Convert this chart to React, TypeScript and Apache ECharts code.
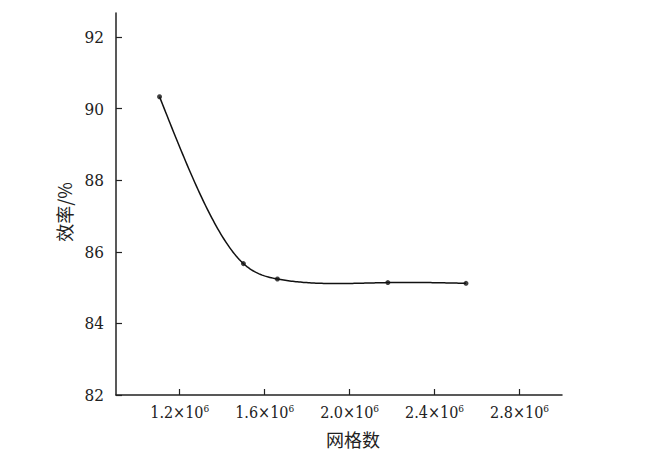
import React, { useEffect, useRef } from "react";
import * as echarts from "echarts";

const gridCounts = [1.105e6, 1.5e6, 1.66e6, 2.18e6, 2.548e6];
const efficiency = [90.33, 85.67, 85.24, 85.14, 85.12];
const xTicks = [1.2e6, 1.6e6, 2.0e6, 2.4e6, 2.8e6];
const yTicks = [82, 84, 86, 88, 90, 92];
const xName = "网格数";
const yName = "效率/%";

const serif = "DejaVu Serif Condensed";
const cjk = "Noto Sans CJK SC";

function naturalSpline(xs: number[], ys: number[]) {
  const n = xs.length;
  const h: number[] = [];
  for (let i = 0; i < n - 1; i++) h.push(xs[i + 1] - xs[i]);
  const a: number[] = new Array(n).fill(0);
  const b: number[] = new Array(n).fill(0);
  const c: number[] = new Array(n).fill(0);
  const d: number[] = new Array(n).fill(0);
  b[0] = 1; b[n - 1] = 1;
  for (let i = 1; i < n - 1; i++) {
    a[i] = h[i - 1];
    b[i] = 2 * (h[i - 1] + h[i]);
    c[i] = h[i];
    d[i] = 6 * ((ys[i + 1] - ys[i]) / h[i] - (ys[i] - ys[i - 1]) / h[i - 1]);
  }
  const cp = [...c];
  const dp = [...d];
  cp[0] = c[0] / b[0];
  dp[0] = d[0] / b[0];
  for (let i = 1; i < n; i++) {
    const m = b[i] - a[i] * cp[i - 1];
    cp[i] = c[i] / m;
    dp[i] = (d[i] - a[i] * dp[i - 1]) / m;
  }
  const M = new Array(n).fill(0);
  M[n - 1] = dp[n - 1];
  for (let i = n - 2; i >= 0; i--) M[i] = dp[i] - cp[i] * M[i + 1];
  return (x: number) => {
    let i = 0;
    while (i < n - 2 && x > xs[i + 1]) i++;
    const hi = h[i];
    const t1 = xs[i + 1] - x;
    const t0 = x - xs[i];
    return (
      (M[i] * t1 * t1 * t1) / (6 * hi) +
      (M[i + 1] * t0 * t0 * t0) / (6 * hi) +
      (ys[i] / hi - (M[i] * hi) / 6) * t1 +
      (ys[i + 1] / hi - (M[i + 1] * hi) / 6) * t0
    );
  };
}

export default function App() {
  const ref = useRef<HTMLDivElement>(null);
  useEffect(() => {
    if (!ref.current) return;
    const chart = echarts.init(ref.current, null, { renderer: "svg" });
    const xsM = gridCounts.map((v) => v / 1e6);
    const f = naturalSpline(xsM, efficiency);
    chart.setOption({
      animation: false,
      backgroundColor: "#ffffff",
      grid: { left: 116, right: 88, top: 13, bottom: 62 },
      xAxis: {
        type: "value",
        min: 0.9e6,
        max: 3.0e6,
        splitLine: { show: false },
        axisLine: { show: true, onZero: false, lineStyle: { color: "#222", width: 1.5 } },
        axisTick: { show: true, inside: true, length: 6, customValues: xTicks, lineStyle: { color: "#222", width: 1.2 } },
        axisLabel: {
          customValues: xTicks,
          margin: 8,
          fontFamily: serif,
          fontSize: 16,
          color: "#222",
          formatter: (v: number) => `{b|${(v / 1e6).toFixed(1)}×10}{s|6}`,
          rich: {
            b: { fontFamily: serif, fontSize: 16, color: "#222" },
            s: { fontFamily: serif, fontSize: 10, color: "#222", verticalAlign: "top", padding: [0, 0, 8, 0] },
          },
        },
      },
      yAxis: {
        type: "value",
        min: 82,
        max: 92.67,
        splitLine: { show: false },
        axisLine: { show: true, onZero: false, lineStyle: { color: "#222", width: 1.5 } },
        axisTick: { show: true, inside: true, length: 6, customValues: yTicks, lineStyle: { color: "#222", width: 1.2 } },
        axisLabel: {
          customValues: yTicks,
          margin: 12,
          fontFamily: serif,
          fontSize: 17,
          color: "#222",
        },
      },
      graphic: [
        {
          type: "text",
          x: 353,
          y: 439,
          style: { text: xName, fontFamily: cjk, fontSize: 18, fill: "#222", align: "center", verticalAlign: "middle" },
        },
        {
          type: "text",
          x: 64,
          y: 212,
          rotation: Math.PI / 2,
          style: { text: yName, fontFamily: cjk, fontSize: 18, fill: "#222", align: "center", verticalAlign: "middle" },
        },
      ],
      series: [
        {
          type: "custom",
          data: [[gridCounts[0], efficiency[0]]],
          renderItem: (_params: any, api: any) => {
            const pts: number[][] = [];
            const x0 = xsM[0];
            const x1 = xsM[xsM.length - 1];
            const N = 200;
            for (let k = 0; k <= N; k++) {
              const x = x0 + ((x1 - x0) * k) / N;
              pts.push(api.coord([x * 1e6, f(x)]));
            }
            return {
              type: "polyline",
              shape: { points: pts },
              style: { stroke: "#111", lineWidth: 1.5, fill: "none" },
            };
          },
          z: 1,
        },
        {
          type: "scatter",
          data: gridCounts.map((x, i) => [x, efficiency[i]]),
          symbol: "circle",
          symbolSize: 5,
          itemStyle: { color: "#111" },
          z: 2,
        },
      ],
    });
    return () => chart.dispose();
  }, []);
  return <div ref={ref} style={{ width: 650, height: 457, position: "absolute", left: 0, top: 0 }} />;
}
